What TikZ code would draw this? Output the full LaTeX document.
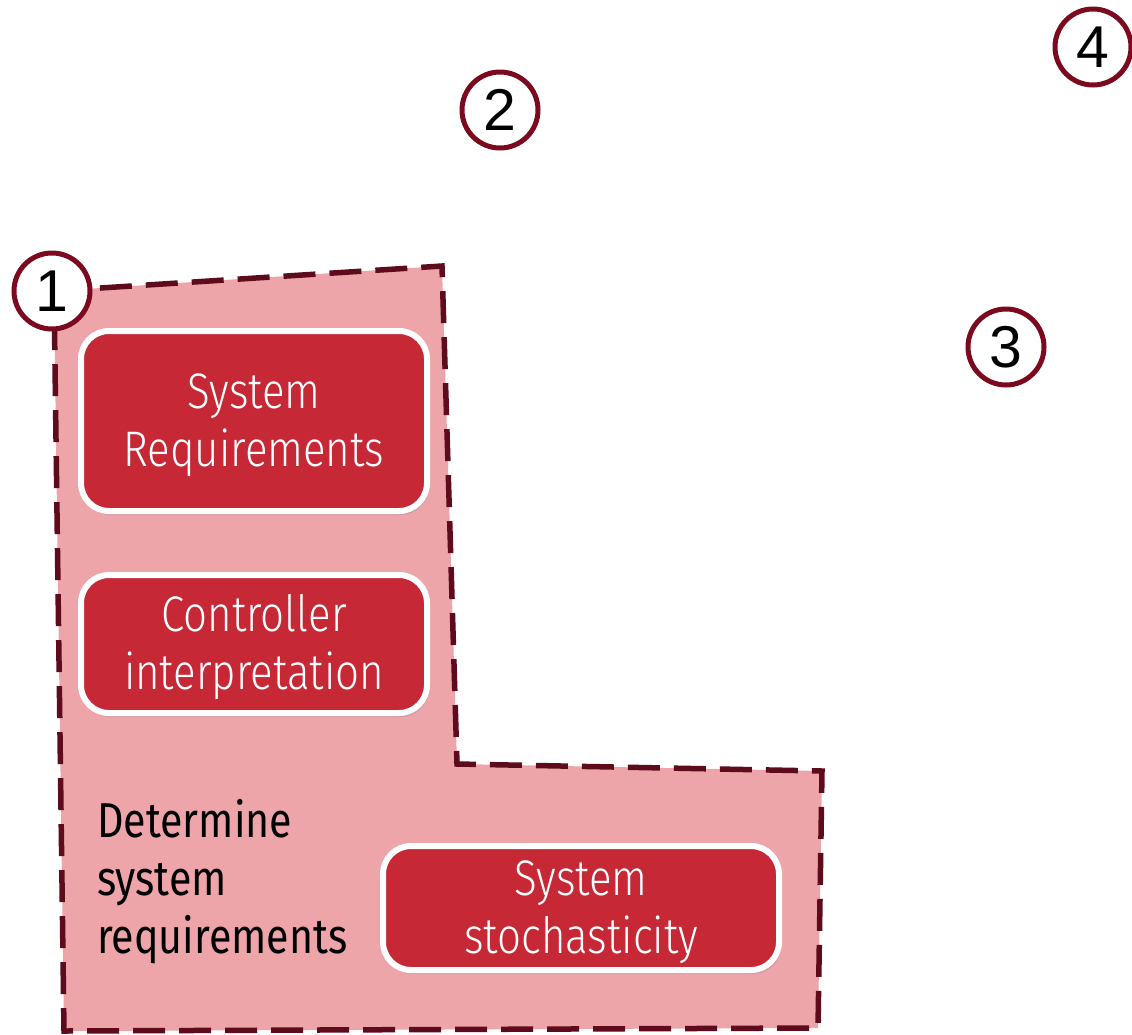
\documentclass[tikz,border=0pt]{standalone}
\usepackage{fontspec}
\usetikzlibrary{shadows}
\newfontfamily\boxfont[FakeStretch=0.84]{Fira Sans Light}
\newfontfamily\labfont[FakeStretch=0.84]{Fira Sans}
\newfontfamily\numfont{Liberation Sans}
\definecolor{boxred}{HTML}{C62836}
\definecolor{zonefill}{HTML}{EDA5AA}
\definecolor{zoneline}{HTML}{5E0B1C}
\definecolor{circline}{HTML}{7B0A1F}
\newcommand{\boxtext}[1]{\raisebox{-5pt}[\height][\depth]{\begin{tabular}{@{}c@{}}#1\end{tabular}}}
\tikzset{
  zone/.style={fill=zonefill, draw=zoneline, line width=5.5pt, dash pattern=on 32pt off 14pt, line join=miter},
  redbox/.style={draw=white, line width=6pt, fill=boxred, rounded corners=28pt, align=center, text=white,
    font=\boxfont\fontsize{50}{58}\selectfont,
    drop shadow={shadow xshift=2pt, shadow yshift=-4pt, opacity=0.25}},
  numcirc/.style={circle, draw=circline, line width=5pt, fill=white, minimum size=76pt, inner sep=0pt,
    font=\numfont\fontsize{59}{59}\selectfont},
  zonelabel/.style={align=left, anchor=west, font=\labfont\fontsize{49}{58}\selectfont, text=black, inner sep=0pt}
}
\begin{document}
\begin{tikzpicture}[x=1pt,y=-1pt]
\useasboundingbox (0,0) rectangle (1132,1034);
\path[zone] (54,291) -- (442,266) -- (457,764) -- (822,771) -- (818,1028) -- (64,1031) -- cycle;
\node[redbox, minimum width=346pt, minimum height=180pt] (req) at (254,421) {\boxtext{System\\Requirements}};
\node[redbox, minimum width=346pt, minimum height=138pt] (ctrl) at (254,644) {\boxtext{Controller\\interpretation}};
\node[redbox, minimum width=396pt, minimum height=124pt] (stoch) at (581,908) {\boxtext{System\\stochasticity}};
\node[zonelabel] (lab) at (97,882) {Determine\\system\\requirements};
\node[numcirc] (n1) at (52,291) {1};
\node[numcirc] (n2) at (500,110) {2};
\node[numcirc] (n3) at (1006,347) {3};
\node[numcirc] (n4) at (1093,47) {4};
\end{tikzpicture}
\end{document}
